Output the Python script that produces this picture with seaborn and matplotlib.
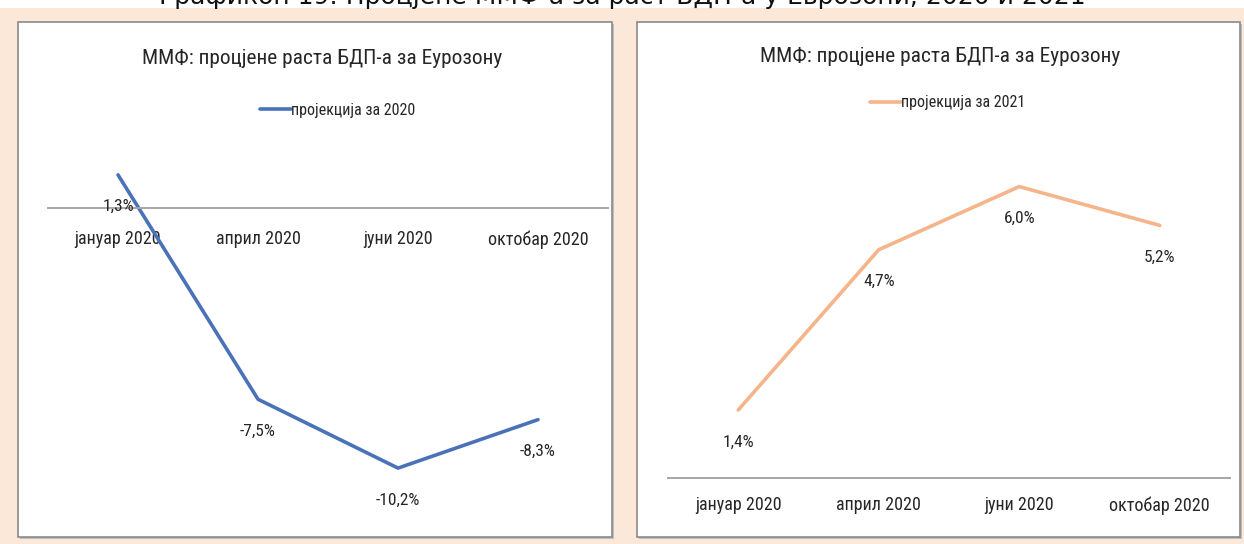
import matplotlib
matplotlib.use("Agg")
import matplotlib.pyplot as plt
from matplotlib.patches import Rectangle
import seaborn as sns
import pandas as pd

# Data
months = ["јануар 2020", "април 2020", "јуни 2020", "октобар 2020"]
proj_2020 = [1.3, -7.5, -10.2, -8.3]
proj_2021 = [1.4, 4.7, 6.0, 5.2]

panel_title = "ММФ: процјене раста БДП-а за Еурозону"
fig_title = "Графикон 19: Процјене ММФ-а за раст БДП-а у Еврозони, 2020 и 2021"

sns.set_style("white")
FONT = ["Roboto Condensed", "Liberation Sans Narrow", "Roboto", "DejaVu Sans"]
plt.rcParams["font.family"] = FONT

W, H = 1244, 544
PEACH = "#FCE8D9"
BLUE = "#4A72B8"
ORANGE = "#F5B48A"
GREY = "#A6A6A6"
TXT = "#262626"

fig = plt.figure(figsize=(W / 100, H / 100), dpi=100, facecolor=PEACH)


def px_rect(x0, y0, x1, y1):
    # pixel box (top-left origin) -> figure fraction [l, b, w, h]
    return [x0 / W, 1 - y1 / H, (x1 - x0) / W, (y1 - y0) / H]


# white strip behind the (cut off) figure title
fig.patches.append(Rectangle((0, 1 - 8 / H), 1, 8 / H, transform=fig.transFigure,
                             facecolor="white", edgecolor="none", zorder=-2))
fig.text(0.5, 1 - 4 / H, fig_title, ha="center", va="baseline", fontsize=18,
         family="DejaVu Sans", color="#111111")

# panel boxes
for x0, x1 in [(18, 612), (637, 1240)]:
    l, b, w, h = px_rect(x0, 22, x1, 537)
    fig.patches.append(Rectangle((l + 1.5 / W, b - 1.5 / H), w, h, transform=fig.transFigure,
                                 facecolor="#BDBDBD", edgecolor="none", zorder=-2))
    fig.patches.append(Rectangle((l, b), w, h, transform=fig.transFigure,
                                 facecolor="white", edgecolor="#8A8A8A", lw=1.2, zorder=-1))


def fmt(v):
    return f"{v:.1f}".replace(".", ",") + "%"


def draw_panel(rect, values, color, label, ylim, title_xy, legend_xy, tick_pad):
    ax = fig.add_axes(rect)
    ax.patch.set_alpha(0)
    df = pd.DataFrame({"month": months, "value": values})
    sns.lineplot(data=df, x="month", y="value", color=color, lw=2.6, sort=False,
                 label=label, ax=ax)
    ax.set_xlim(-0.5, len(months) - 0.5)
    ax.set_ylim(*ylim)
    for s in ["top", "right", "left"]:
        ax.spines[s].set_visible(False)
    ax.spines["bottom"].set_position(("data", 0))
    ax.spines["bottom"].set_color(GREY)
    ax.spines["bottom"].set_linewidth(1.4)
    ax.set_yticks([])
    ax.set_xlabel("")
    ax.set_ylabel("")
    ax.tick_params(axis="x", length=0, pad=tick_pad, labelsize=13, colors=TXT)
    for i, v in enumerate(values):
        ax.annotate(fmt(v), (i, v), xytext=(0, -23), textcoords="offset points",
                    ha="center", va="center", fontsize=12.5, color=TXT)
    fig.text(title_xy[0] / W, 1 - title_xy[1] / H, panel_title, ha="center", va="center",
             fontsize=15.4, color=TXT)
    ax.legend(loc="center", bbox_to_anchor=(legend_xy[0] / W, 1 - legend_xy[1] / H),
              bbox_transform=fig.transFigure, frameon=False, fontsize=11.5,
              handlelength=1.9, handletextpad=0.05, labelcolor=TXT)
    return ax


draw_panel(px_rect(48, 157, 608, 514), proj_2020, BLUE, "пројекција за 2020",
           (-12, 2), (322, 58), (338, 110), 16)
draw_panel(px_rect(668, 138, 1230, 478), proj_2021, ORANGE, "пројекција за 2021",
           (0, 7), (940, 56), (948, 103), 13)

fig.savefig("out.png", dpi=100, facecolor=PEACH)
